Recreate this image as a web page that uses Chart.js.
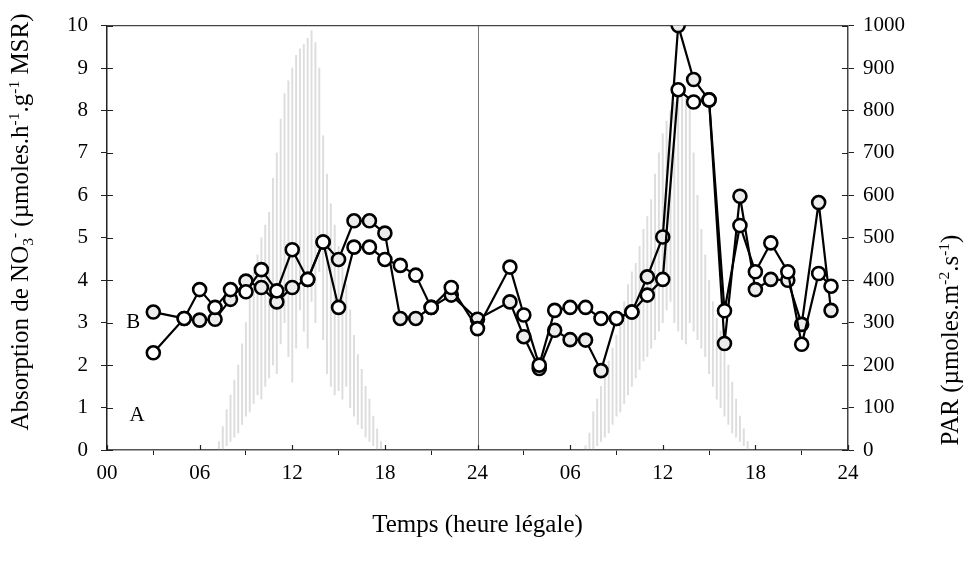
<!DOCTYPE html>
<html>
<head>
<meta charset="utf-8">
<script src="https://cdn.jsdelivr.net/npm/chart.js@4.4.0/dist/chart.umd.min.js"></script>
<style>
  html, body { margin: 0; padding: 0; background: #fff; }
</style>
</head>
<body>
<canvas id="chart" width="969" height="561"></canvas>
<script>
// x = hours since start (0-48), two days
var xTickLabels = ["00", "06", "12", "18", "24", "06", "12", "18", "24"];

// sampling times of the NO3- uptake measurements
var sampleTimes = [3, 5, 6, 7, 8, 9, 10, 11, 12, 13, 14, 15, 16, 17, 18, 19, 20, 21, 22.3, 24,
  26.1, 27, 28, 29, 30, 31, 32, 33, 34, 35, 36, 37, 38, 39, 40, 41, 42, 43, 44.1, 45, 46.1, 46.9];

// series B (grey-filled circles)
var uptakeB = [3.25, 3.10, 3.06, 3.08, 3.55, 3.98, 3.83, 3.49, 3.83, 4.02, 4.90, 4.49, 5.40, 5.40, 5.11, 3.10, 3.10, 3.36, 3.65, 3.08,
  3.49, 2.67, 1.92, 2.82, 2.60, 2.59, 1.87, 3.10, 3.25, 4.08, 5.02, 10.0, 8.73, 8.25, 2.51, 5.98, 3.78, 4.02, 4.00, 2.96, 5.83, 3.29];

// series A (open circles)
var uptakeA = [2.29, 3.10, 3.78, 3.36, 3.78, 3.73, 4.25, 3.75, 4.72, 4.02, 4.90, 3.36, 4.78, 4.78, 4.49, 4.35, 4.12, 3.36, 3.83, 2.86,
  4.31, 3.18, 2.00, 3.29, 3.36, 3.36, 3.10, 3.10, 3.25, 3.65, 4.02, 8.49, 8.20, 8.25, 3.28, 5.29, 4.20, 4.88, 4.20, 2.49, 4.16, 3.86];

// PAR record (grey trace), high and low readings per quarter hour
var parTime = [7.25, 7.5, 7.75, 8, 8.25, 8.5, 8.75, 9, 9.25, 9.5, 9.75, 10, 10.25, 10.5, 10.75, 11, 11.25, 11.5, 11.75, 12,
  12.25, 12.5, 12.75, 13, 13.25, 13.5, 13.75, 14, 14.25, 14.5, 14.75, 15, 15.25, 15.5, 15.75, 16, 16.25, 16.5, 16.75, 17, 17.25, 17.5, 17.75,
  31, 31.25, 31.5, 31.75, 32, 32.25, 32.5, 32.75, 33, 33.25, 33.5, 33.75, 34, 34.25, 34.5, 34.75, 35, 35.25, 35.5, 35.75, 36,
  36.25, 36.5, 36.75, 37, 37.25, 37.5, 37.75, 38, 38.25, 38.5, 38.75, 39, 39.25, 39.5, 39.75, 40, 40.25, 40.5, 40.75, 41, 41.25, 41.5];
var parHigh = [20, 55, 95, 130, 165, 200, 250, 300, 360, 420, 460, 500, 530, 560, 640, 700, 780, 840, 870, 900,
  930, 945, 955, 970, 988, 960, 900, 740, 650, 580, 530, 480, 430, 390, 330, 270, 225, 190, 150, 120, 80, 50, 20,
  10, 40, 90, 120, 150, 180, 210, 240, 270, 310, 350, 390, 420, 440, 480, 520, 550, 590, 650, 700, 745,
  775, 800, 820, 835, 846, 830, 810, 700, 600, 520, 460, 400, 350, 310, 280, 240, 200, 160, 120, 80, 50, 20];
var parLow = [0, 0, 10, 20, 30, 40, 60, 80, 90, 110, 130, 120, 150, 170, 200, 180, 250, 300, 220, 160,
  240, 330, 280, 240, 350, 300, 420, 260, 180, 150, 130, 140, 120, 150, 100, 80, 60, 50, 30, 20, 10, 0, 0,
  0, 0, 0, 10, 20, 30, 40, 60, 80, 90, 110, 130, 150, 170, 190, 210, 220, 240, 260, 280, 300,
  330, 350, 300, 280, 260, 250, 300, 280, 260, 240, 220, 180, 150, 120, 100, 80, 60, 40, 30, 20, 10, 0];

var FONT = '"Liberation Serif", "Times New Roman", serif';

function toPoints(xs, ys) {
  return xs.map(function (x, i) { return { x: x, y: ys[i] }; });
}

// draws a text made of normal / superscript (1) / subscript (-1) parts, centred on 0,0
function drawRich(ctx, parts, size) {
  var total = 0;
  parts.forEach(function (p) {
    ctx.font = (p[1] ? size * 0.62 : size) + 'px ' + FONT;
    total += ctx.measureText(p[0]).width;
  });
  var x = -total / 2;
  ctx.textAlign = 'left';
  ctx.textBaseline = 'alphabetic';
  parts.forEach(function (p) {
    var s = p[1] ? size * 0.62 : size;
    ctx.font = s + 'px ' + FONT;
    var dy = size * 0.33;
    if (p[1] === 1) dy -= size * 0.38;
    if (p[1] === -1) dy += size * 0.18;
    ctx.fillText(p[0], x, dy);
    x += ctx.measureText(p[0]).width;
  });
}

var decor = {
  id: 'decor',
  beforeDatasetsDraw: function (chart) {
    var ctx = chart.ctx, a = chart.chartArea;
    var xs = chart.scales.x;
    ctx.save();
    // midnight line
    var mx = Math.round(xs.getPixelForValue(24)) + 0.5;
    ctx.strokeStyle = '#777';
    ctx.lineWidth = 1;
    ctx.beginPath();
    ctx.moveTo(mx, a.top);
    ctx.lineTo(mx, a.bottom);
    ctx.stroke();
    // top frame
    ctx.strokeStyle = '#444';
    ctx.lineWidth = 1.2;
    ctx.beginPath();
    ctx.moveTo(a.left, a.top);
    ctx.lineTo(a.right, a.top);
    ctx.stroke();
    // inner halves of the crossing ticks
    ctx.strokeStyle = '#222';
    ctx.beginPath();
    chart.scales.y.ticks.forEach(function (t) {
      var py = Math.round(chart.scales.y.getPixelForValue(t.value)) + 0.5;
      ctx.moveTo(a.left, py); ctx.lineTo(a.left + 6, py);
    });
    chart.scales.yPar.ticks.forEach(function (t) {
      var py = Math.round(chart.scales.yPar.getPixelForValue(t.value)) + 0.5;
      ctx.moveTo(a.right - 6, py); ctx.lineTo(a.right, py);
    });
    xs.ticks.forEach(function (t) {
      var px = Math.round(xs.getPixelForValue(t.value)) + 0.5;
      ctx.moveTo(px, a.bottom - 5); ctx.lineTo(px, a.bottom);
    });
    ctx.stroke();
    ctx.restore();
  },
  afterDraw: function (chart) {
    var ctx = chart.ctx, a = chart.chartArea;
    ctx.save();
    ctx.fillStyle = '#000';
    // left title
    ctx.save();
    ctx.translate(20, 222);
    ctx.rotate(-Math.PI / 2);
    drawRich(ctx, [['Absorption de NO', 0], ['3', -1], ['-', 1], [' (\u00b5moles.h', 0], ['-1', 1], ['.g', 0], ['-1', 1], [' MSR)', 0]], 25);
    ctx.restore();
    // right title
    ctx.save();
    ctx.translate(950, 340);
    ctx.rotate(-Math.PI / 2);
    drawRich(ctx, [['PAR (\u00b5moles.m', 0], ['-2', 1], ['.s', 0], ['-1', 1], [')', 0]], 25);
    ctx.restore();
    // bottom title
    ctx.save();
    ctx.translate((a.left + a.right) / 2, 524);
    drawRich(ctx, [['Temps (heure l\u00e9gale)', 0]], 25);
    ctx.restore();
    // curve labels
    ctx.font = '21px ' + FONT;
    ctx.textAlign = 'center';
    ctx.textBaseline = 'middle';
    ctx.fillText('B', chart.scales.x.getPixelForValue(1.7), chart.scales.y.getPixelForValue(3.0));
    ctx.fillText('A', chart.scales.x.getPixelForValue(1.95), chart.scales.y.getPixelForValue(0.82));
    ctx.restore();
  }
};

var tickFont = { family: FONT, size: 21 };
function plainTick(v) { return String(v); }

new Chart(document.getElementById('chart'), {
  type: 'line',
  data: {
    datasets: [{
      label: 'A',
      data: toPoints(sampleTimes, uptakeA),
      yAxisID: 'y',
      borderColor: '#000',
      borderWidth: 2.2,
      pointRadius: 6.5,
      pointBorderWidth: 2.6,
      pointBorderColor: '#000',
      pointBackgroundColor: '#fff',
      tension: 0,
      order: 1
    }, {
      label: 'B',
      data: toPoints(sampleTimes, uptakeB),
      yAxisID: 'y',
      borderColor: '#000',
      borderWidth: 2.2,
      pointRadius: 6.5,
      pointBorderWidth: 2.6,
      pointBorderColor: '#000',
      pointBackgroundColor: '#ececec',
      tension: 0,
      order: 2
    }, {
      type: 'bar',
      label: 'PAR',
      data: parTime.map(function (t, i) { return { x: t, y: [parLow[i], parHigh[i]] }; }),
      yAxisID: 'yPar',
      backgroundColor: 'rgba(150,150,150,0.32)',
      barThickness: 1.3,
      grouped: false,
      order: 10
    }]
  },
  options: {
    responsive: false,
    animation: false,
    layout: { padding: { top: 25, left: 0, right: 0, bottom: 0 } },
    plugins: { legend: { display: false }, tooltip: { enabled: false } },
    scales: {
      x: {
        type: 'linear',
        min: 0, max: 48,
        offset: false,
        afterFit: function (s) { s.height = 111; },
        ticks: {
          stepSize: 6, color: '#000', font: tickFont, padding: 6, maxRotation: 0,
          callback: function (v) { return xTickLabels[v / 6]; }
        },
        grid: { drawOnChartArea: false, tickLength: 5, color: '#222' },
        border: { color: '#555', width: 1.5 }
      },
      y: {
        position: 'left',
        min: 0, max: 10,
        afterFit: function (s) { s.width = 107; },
        ticks: { stepSize: 1, color: '#000', font: tickFont, padding: 13, callback: plainTick },
        grid: { drawOnChartArea: false, tickLength: 6, color: '#222' },
        border: { color: '#222', width: 1.5 }
      },
      yPar: {
        position: 'right',
        min: 0, max: 1000,
        afterFit: function (s) { s.width = 121; },
        ticks: { stepSize: 100, color: '#000', font: tickFont, padding: 9, callback: plainTick },
        grid: { drawOnChartArea: false, tickLength: 6, color: '#222' },
        border: { color: '#444', width: 1.5 }
      }
    }
  },
  plugins: [decor]
});
</script>
</body>
</html>
